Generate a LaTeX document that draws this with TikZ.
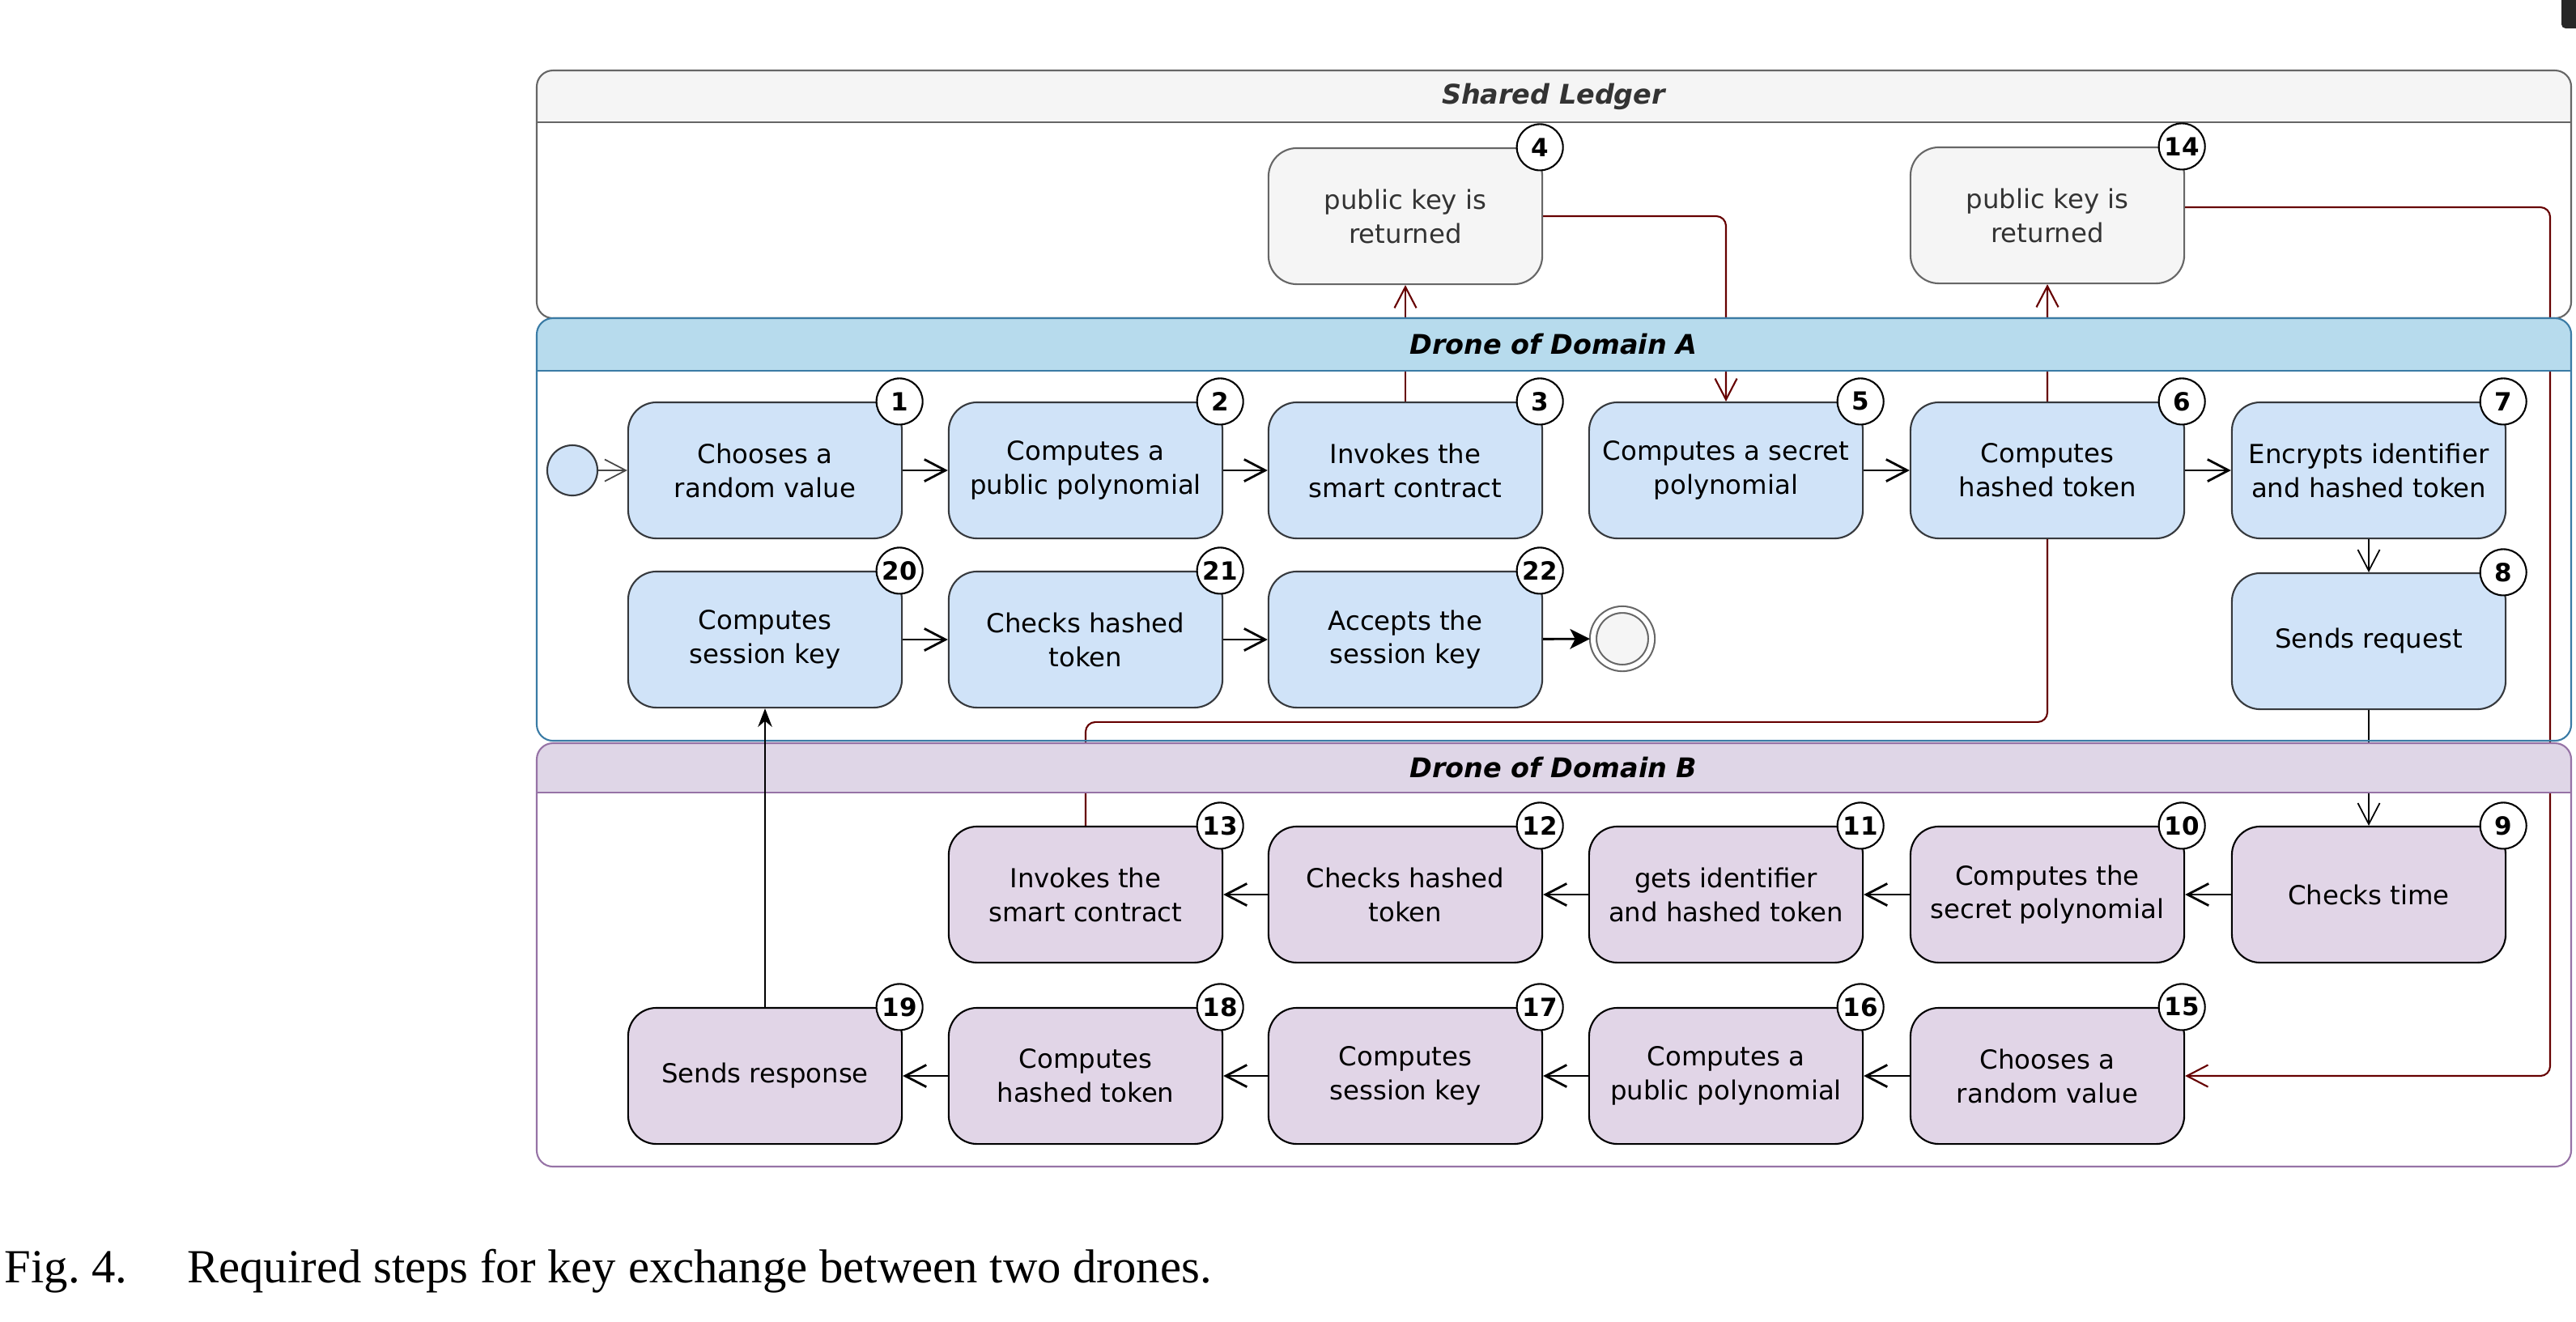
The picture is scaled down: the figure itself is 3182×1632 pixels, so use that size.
\documentclass[tikz,border=0pt]{standalone}
\usepackage{fontspec}
\setmainfont{DejaVu Sans}
\newfontfamily\captionserif{Liberation Serif}
\usetikzlibrary{arrows.meta}

\definecolor{stepAfill}{HTML}{D0E3F8}
\definecolor{stepAline}{HTML}{36393D}
\definecolor{stepBfill}{HTML}{E1D5E7}
\definecolor{ledgerfill}{HTML}{F5F5F5}
\definecolor{ledgerline}{HTML}{666666}
\definecolor{ledgertext}{HTML}{333333}
\definecolor{laneAfill}{HTML}{B7DBED}
\definecolor{laneAline}{HTML}{3A7BA5}
\definecolor{laneBfill}{HTML}{DFD6E7}
\definecolor{laneBline}{HTML}{9673A6}
\definecolor{chainred}{HTML}{660000}

\pgfdeclarelayer{edgelayer}
\pgfdeclarelayer{lanelayer}
\pgfsetlayers{edgelayer,lanelayer,main}

\newcommand{\stepfont}{\fontsize{9.2}{11.9}\selectfont}

\tikzset{
  stepbox/.style={rectangle, rounded corners=0.35cm, line width=0.6pt,
    minimum width=3.38cm, minimum height=1.68cm, inner sep=1pt,
    align=center, font=\stepfont},
  stepA/.style={stepbox, draw=stepAline, fill=stepAfill},
  stepB/.style={stepbox, draw=black, fill=stepBfill},
  ledgerbox/.style={stepbox, draw=ledgerline, fill=ledgerfill, text=ledgertext},
  badge/.style={circle, draw=black, fill=white, line width=0.6pt,
    minimum size=0.57cm, inner sep=0pt,
    font=\fontsize{8.8}{9}\selectfont\bfseries},
  startstate/.style={circle, draw=stepAline, fill=stepAfill, line width=0.6pt,
    minimum size=0.62cm, inner sep=0pt},
  endstate/.style={circle, draw=ledgerline, fill=ledgerfill, double=white,
    double distance=0.06cm, line width=0.6pt, minimum size=0.72cm,
    inner sep=0pt, outer sep=0.04cm},
  flow/.style={line width=0.8pt, -{Straight Barb[length=7.4pt,width=7.7pt]}},
  thinflow/.style={line width=0.5pt, -{Straight Barb[length=7.4pt,width=7.7pt]}},
  chain/.style={thinflow, line width=0.6pt, draw=chainred, rounded corners=0.12cm},
  lanetitle/.style={font=\fontsize{9.5}{11}\selectfont\bfseries\itshape},
}

\begin{document}
\begin{tikzpicture}[x=0.01cm, y=-0.01cm]
  \useasboundingbox (0,0) rectangle (3182,1632);

  % swimlanes
  \begin{pgfonlayer}{lanelayer}
    \foreach \ltop/\lhead/\lbot/\hcol/\lcol/\tcol/\lname/\ltitle in
      {87/151/393/ledgerfill/ledgerline/ledgertext/ledger/Shared Ledger,
       393/458/915/laneAfill/laneAline/black/laneA/Drone of Domain A,
       918/979/1441/laneBfill/laneBline/black/laneB/Drone of Domain B}
    {
      \begin{scope}
        \clip (663,\ltop) rectangle (3176,\lhead);
        \fill[\hcol, rounded corners=0.2cm] (663,\ltop) rectangle (3176,\lbot);
      \end{scope}
      \draw[\lcol, line width=0.6pt, rounded corners=0.2cm] (663,\ltop) rectangle (3176,\lbot);
      \draw[\lcol, line width=0.6pt] (663,\lhead) -- (3176,\lhead);
      \node[lanetitle, text=\tcol] (\lname) at (1919,{(\ltop+\lhead)/2}) {\ltitle};
    }
  \end{pgfonlayer}

  % steps
  \node[startstate] (start) at (707,581) {};
  \node[stepA] (s1) at (945,581) {Chooses a\\random value};
  \node[stepA] (s2) at (1341,581) {Computes a\\public polynomial};
  \node[stepA] (s3) at (1736,581) {Invokes the\\smart contract};
  \node[ledgerbox] (s4) at (1736,267) {public key is\\returned};
  \node[stepA] (s5) at (2132,581) {Computes a secret\\polynomial};
  \node[stepA] (s6) at (2529,581) {Computes\\hashed token};
  \node[stepA] (s7) at (2926,581) {Encrypts identifier\\and hashed token};
  \node[stepA] (s8) at (2926,792) {Sends request};
  \node[stepB] (s9) at (2926,1105) {Checks time};
  \node[stepB] (s10) at (2529,1105) {Computes the\\secret polynomial};
  \node[stepB] (s11) at (2132,1105) {gets identifier\\and hashed token};
  \node[stepB] (s12) at (1736,1105) {Checks hashed\\token};
  \node[stepB] (s13) at (1341,1105) {Invokes the\\smart contract};
  \node[ledgerbox] (s14) at (2529,266) {public key is\\returned};
  \node[stepB] (s15) at (2529,1329) {Chooses a\\random value};
  \node[stepB] (s16) at (2132,1329) {Computes a\\public polynomial};
  \node[stepB] (s17) at (1736,1329) {Computes\\session key};
  \node[stepB] (s18) at (1341,1329) {Computes\\hashed token};
  \node[stepB] (s19) at (945,1329) {Sends response};
  \node[stepA] (s20) at (945,790) {Computes\\session key};
  \node[stepA] (s21) at (1341,790) {Checks hashed\\token};
  \node[stepA] (s22) at (1736,790) {Accepts the\\session key};
  \node[endstate] (end) at (2004,789) {};

  \foreach \n in {1,...,22}
    \node[badge] (b\n) at ([xshift=-0.04cm]s\n.north east) {\n};

  \coordinate (rail) at (3150,800);

  % connectors under the lane headers
  \begin{pgfonlayer}{edgelayer}
    \draw[flow] (s1) -- (s2);
    \draw[flow] (s2) -- (s3);
    \draw[flow] (s5) -- (s6);
    \draw[flow] (s6) -- (s7);
    \draw[thinflow] (s7) -- (s8);
    \draw[thinflow] (s8) -- (s9);
    \draw[flow] (s9) -- (s10);
    \draw[flow] (s10) -- (s11);
    \draw[flow] (s11) -- (s12);
    \draw[flow] (s12) -- (s13);
    \draw[flow] (s15) -- (s16);
    \draw[flow] (s16) -- (s17);
    \draw[flow] (s17) -- (s18);
    \draw[flow] (s18) -- (s19);
    \draw[flow] (s20) -- (s21);
    \draw[flow] (s21) -- (s22);
    \draw[chain] (s3) -- (s4);
    \draw[chain] (s4.east) -| (s5.north);
    \draw[chain] (s13.north) -- ++(0,-128) -| (s14.south);
    \draw[chain] ([yshift=0.1cm]s14.east) -| (rail) |- (s15.east);
  \end{pgfonlayer}

  \draw[thinflow, draw=ledgerline!70!black] (start) -- (s1);
  \draw[line width=0.8pt, -{Stealth[length=7pt,width=7pt,inset=1.8pt]}] (s22) -- (end);
  \draw[line width=0.5pt, -{Stealth[length=6.5pt,width=5pt]}] (s19) -- (s20);

  \fill[black!85, rounded corners=0.05cm] (3164,-20) rectangle (3200,35);

  \node[anchor=base west, inner sep=0pt, font=\captionserif\fontsize{16.7}{20}\selectfont] (caption)
    at (5,1584) {Fig.~4.\hspace{21pt}Required steps for key exchange between two drones.};
\end{tikzpicture}
\end{document}
